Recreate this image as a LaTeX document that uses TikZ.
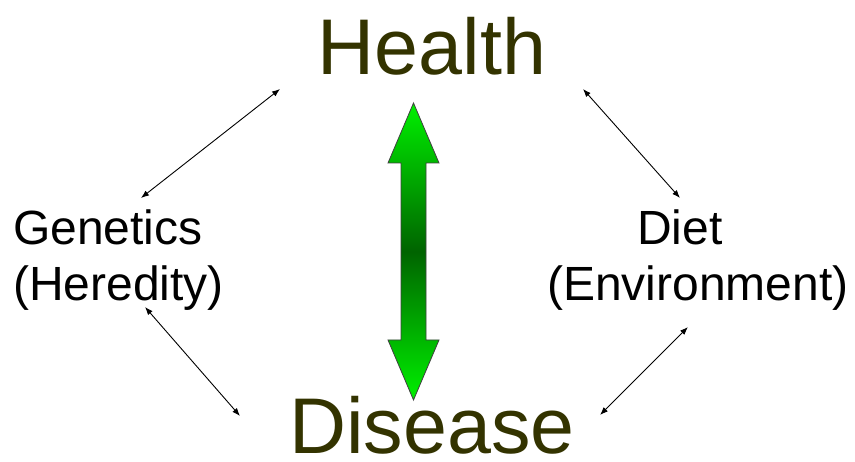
\documentclass[tikz,border=0pt]{standalone}
\usepackage{fontspec}
\setmainfont{Liberation Sans}
\usepackage{tikz}
\usepackage{xcolor}
\usetikzlibrary{arrows.meta}
\definecolor{olive1}{RGB}{51,51,0}
\definecolor{brightgreen}{RGB}{0,240,0}
\definecolor{deepgreen}{RGB}{0,100,0}

\begin{document}
\begin{tikzpicture}[
  x=1pt,y=-1pt,
  big/.style={text=olive1, font=\fontsize{79}{90}\selectfont, inner sep=0pt, anchor=base},
  side/.style={text=black, font=\fontsize{48}{56}\selectfont, inner sep=0pt},
  link/.style={{Latex[length=8pt,width=6pt]}-{Latex[length=8pt,width=6pt]}, line width=0.9pt, draw=black},
  updown/.style={draw=black!75, line width=0.8pt, top color=brightgreen, bottom color=brightgreen, middle color=deepgreen}
]
\useasboundingbox (0,0) rectangle (855,462);

\node[big] (health) at (432,75) {Health};
\node[big] (disease) at (432,454) {Disease};
\node[side, align=left, anchor=west] (genetics) at (13,260) {Genetics\\(Heredity)};
\node[side, align=center] (diet) at (698,260) {Diet\hspace*{36pt}\\(Environment)};

% ends of the thin links
\coordinate (hg) at (280,89);
\coordinate (gh) at (141,198);
\coordinate (hd) at (583,89);
\coordinate (dh) at (680,198);
\coordinate (gd) at (145,307);
\coordinate (dg) at (240,416);
\coordinate (de) at (688,327);
\coordinate (ed) at (600,415);

\draw[link] (hg) -- (gh);
\draw[link] (hd) -- (dh);
\draw[link] (gd) -- (dg);
\draw[link] (de) -- (ed);

% big double arrow
\path[updown] (413.5,103) -- (439,163) -- (426,163) -- (426,340) -- (439,340)
  -- (413.5,400) -- (388,340) -- (401,340) -- (401,163) -- (388,163) -- cycle;
\end{tikzpicture}
\end{document}
